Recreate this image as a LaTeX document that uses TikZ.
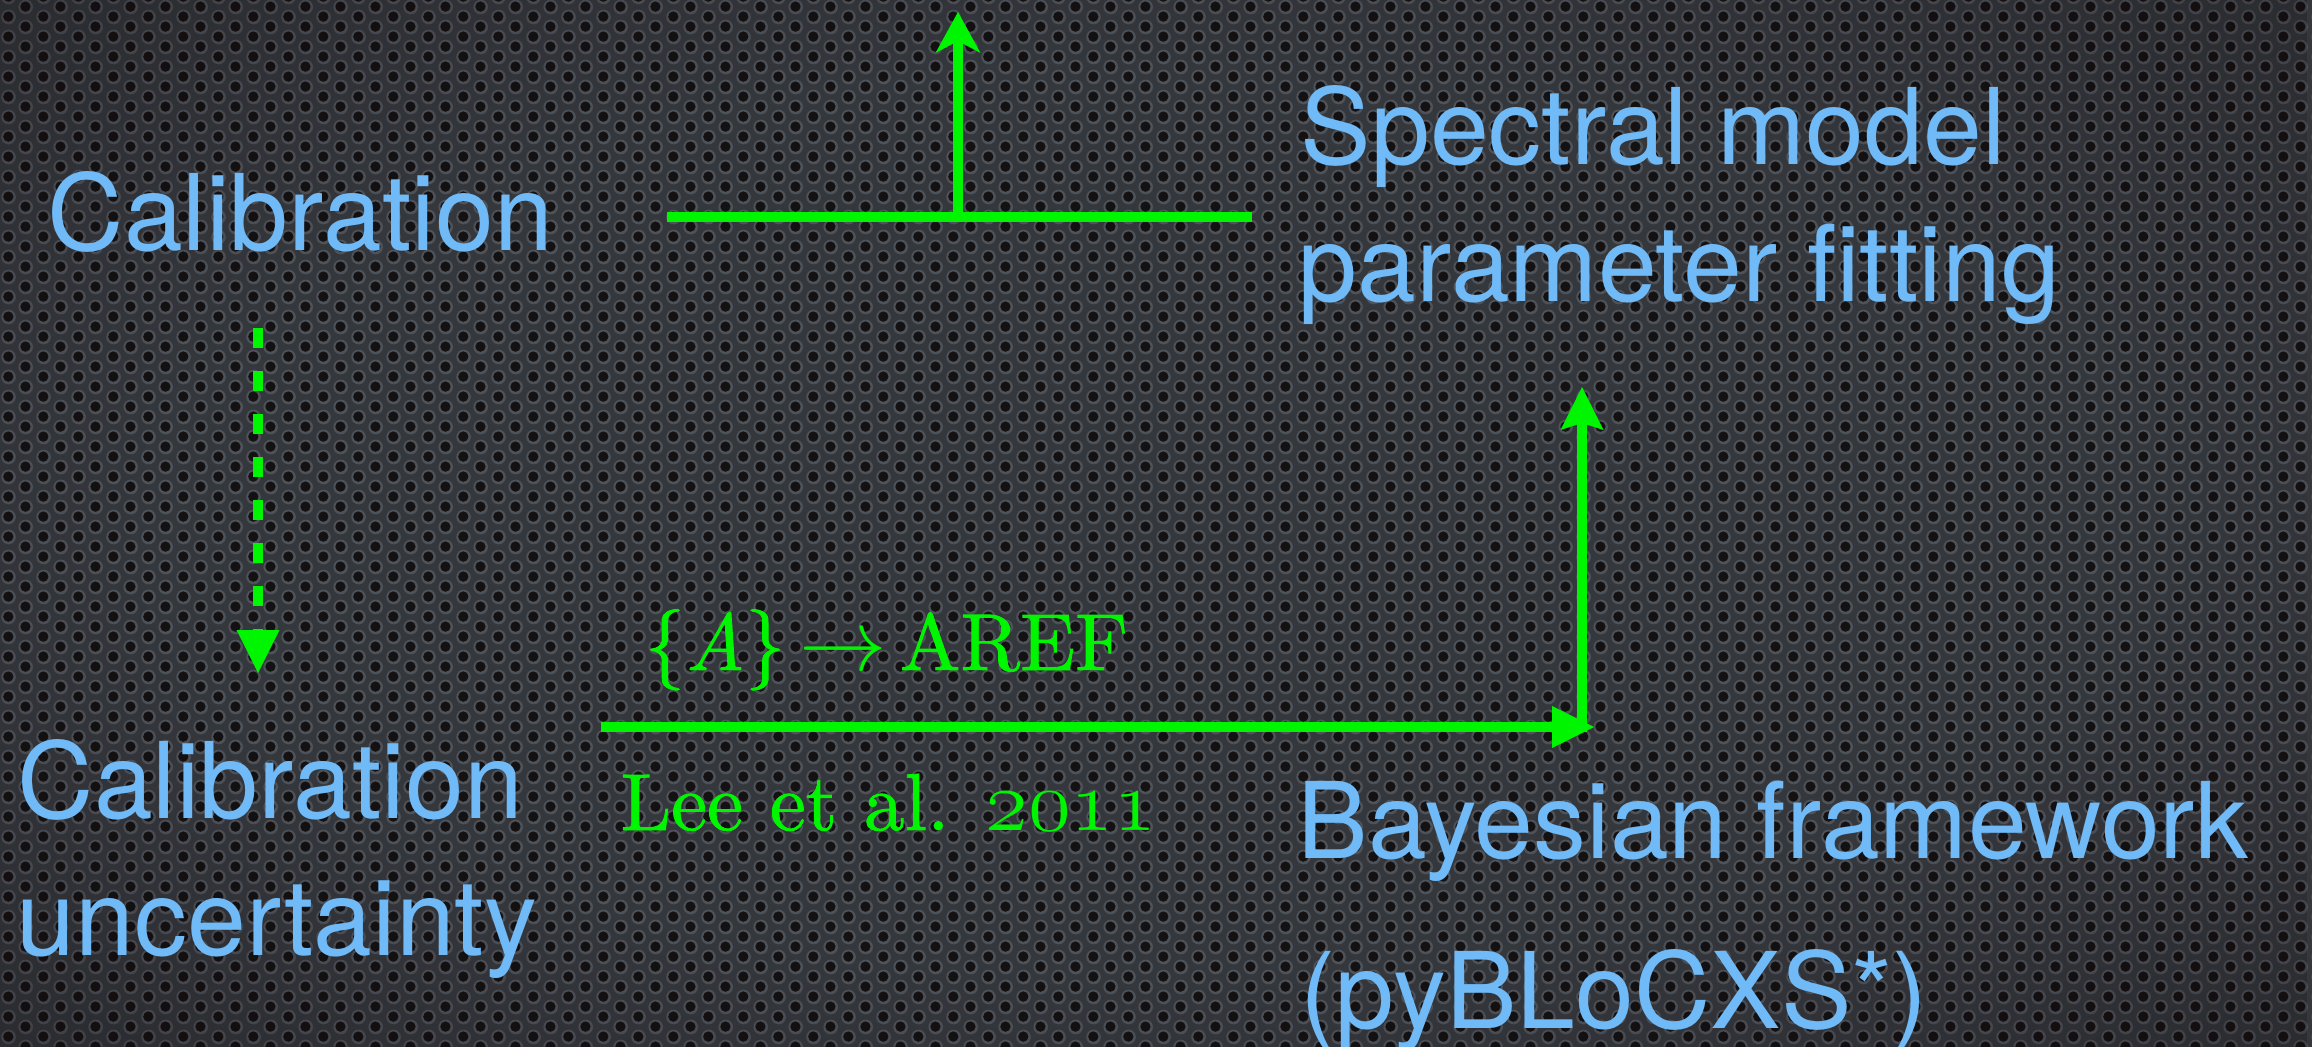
\documentclass[tikz,border=0pt]{standalone}
\usepackage{fontspec}
\newfontfamily\heros{TeX Gyre Heros}
\newfontfamily\lmten{lmroman10-regular.otf}[
  ItalicFont=lmroman10-italic.otf, FakeBold=1.1]
\usetikzlibrary{arrows.meta,patterns,fadings}

\definecolor{skyblue}{RGB}{111,186,247}
\definecolor{lime}{RGB}{0,245,0}
\definecolor{plate}{RGB}{52,55,60}
\definecolor{holerim}{RGB}{78,82,89}
\definecolor{holedark}{RGB}{20,17,19}
\definecolor{vigcol}{RGB}{16,9,11}

% perforated metal: hexagonal grid of holes, 2mm pitch
\pgfdeclarepatterninherentlycolored{perforated}
  {\pgfpointorigin}{\pgfpoint{3.464mm}{2mm}}
  {\pgfpoint{3.464mm}{2mm}}
  {%
    \pgfsetfillcolor{holerim}%
    \pgfpathcircle{\pgfpoint{0.866mm}{1mm}}{0.74mm}%
    \pgfpathcircle{\pgfpoint{2.598mm}{0mm}}{0.74mm}%
    \pgfpathcircle{\pgfpoint{2.598mm}{2mm}}{0.74mm}%
    \pgfusepath{fill}%
    \pgfsetfillcolor{holedark}%
    \pgfpathcircle{\pgfpoint{0.84mm}{1.04mm}}{0.52mm}%
    \pgfpathcircle{\pgfpoint{2.572mm}{0.04mm}}{0.52mm}%
    \pgfpathcircle{\pgfpoint{2.572mm}{2.04mm}}{0.52mm}%
    \pgfusepath{fill}%
  }

% darkening towards the edges of the plate
\pgfdeclareradialshading{vigshade}{\pgfpoint{0bp}{0bp}}{%
  color(0bp)=(black); color(22bp)=(black);
  color(45bp)=(black!55!white); color(71bp)=(white)}
\pgfdeclarefading{vignette}{\pgfuseshading{vigshade}}

\begin{document}
\begin{tikzpicture}[x=0.1mm,y=-0.1mm,
  lab/.style={anchor=base west, inner sep=0pt, text=skyblue,
    font=\heros\fontsize{30.1}{36}\selectfont},
  note/.style={anchor=base west, inner sep=0pt, text=lime,
    font=\lmten\fontsize{23}{28}\selectfont},
  link/.style={draw=lime, line width=1mm},
  dashlink/.style={link, dash pattern=on 2mm off 2.3mm}]

% background plate
\useasboundingbox (0,0) rectangle (2312,1047);
\fill[plate] (0,0) rectangle (2312,1047);
\fill[pattern=perforated] (0,0) rectangle (2312,1047);
\fill[vigcol, path fading=vignette, fit fading=true, fill opacity=0.92]
  (0,0) rectangle (2312,1047);

% labels
\node[lab] (cal)    at (47,251)   {Calibration};
\node[lab] (calu)   at (17,818)   {Calibration};
\node[lab] (unc)    at (16,955)   {uncertainty};
\node[lab] (spec)   at (1300,165) {Spectral model};
\node[lab] (par)    at (1298,302) {parameter fitting};
\node[lab] (bayes)  at (1297,858) {Bayesian framework};
\node[lab] (pyb)    at (1300,1028) {(pyBLoCXS*)};

\node[note] (aref) at (644,670) {\{\textit{A}\}\,$\rightarrow$\,AREF};
\node[note] (lee)  at (620,830)
  {Lee et al. {\usefont{OML}{cmm}{m}{it}\fontsize{23}{28}\selectfont 2011}};

% connector end points
\coordinate (barL) at (667,217);
\coordinate (barR) at (1252,217);
\coordinate (barM) at (958,217);
\coordinate (topTip) at (958,12);
\coordinate (dashS) at (258,328);
\coordinate (dashE) at (258,673);
\coordinate (hS) at (601,727);
\coordinate (hE) at (1594,727);
\coordinate (vS) at (1582,732);
\coordinate (vE) at (1582,387);

% connectors
\draw[link] (barL) -- (barR);
\draw[link, -{Stealth[length=4.1mm, width=4.5mm, inset=1.2mm, line width=0pt]}]
  (barM) -- (topTip);
\draw[dashlink, -{Triangle[length=4.3mm, width=4.3mm, line width=0pt]}]
  (dashS) -- (dashE);
\draw[link, -{Triangle[length=4.2mm, width=4.2mm, line width=0pt]}]
  (hS) -- (hE);
\draw[link, -{Stealth[length=4.3mm, width=4.3mm, inset=0.7mm, line width=0pt]}]
  (vS) -- (vE);
\end{tikzpicture}
\end{document}
